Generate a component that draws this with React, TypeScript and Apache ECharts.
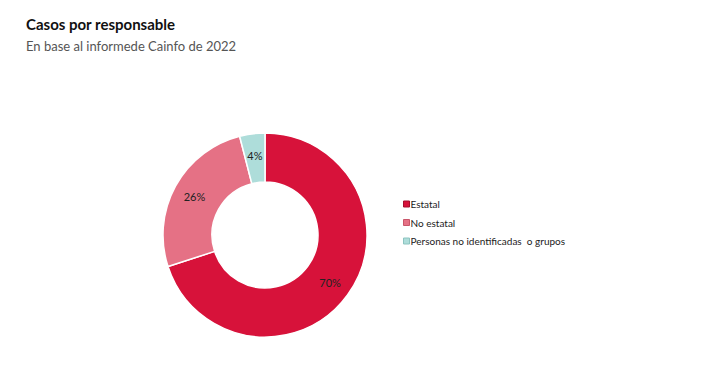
import React, { useEffect, useRef } from "react";
import * as echarts from "echarts";

const categories = ["Estatal", "No estatal", "Personas no identificadas  o grupos"];
const values = [70, 26, 4];
const colors = ["#D7123A", "#E57185", "#AEDDDA"];
const borderColors = ["#A50E2D", "#C9566A", "#8CC4C0"];

export default function App() {
  const ref = useRef<HTMLDivElement>(null);
  useEffect(() => {
    const chart = echarts.init(ref.current!, null, { renderer: "svg" });
    chart.setOption({
      animation: false,
      backgroundColor: "#ffffff",
      title: {
        text: "Casos por responsable",
        subtext: "En base al informede Cainfo de 2022",
        left: 13,
        top: 3,
        itemGap: 8,
        textStyle: { fontFamily: "Lato", fontSize: 15, fontWeight: "bold", color: "#111" },
        subtextStyle: { fontFamily: "Lato", fontSize: 13, color: "#555" },
      },
      legend: {
        orient: "vertical",
        left: 390,
        top: 186,
        itemWidth: 6,
        itemHeight: 6,
        itemGap: 8.5,
        icon: "rect",
        textStyle: { fontFamily: "Lato", fontSize: 10, color: "#222", padding: [0, 0, 0, -4] },
        data: categories.map((c, i) => ({
          name: c,
          itemStyle: { color: colors[i], borderColor: borderColors[i], borderWidth: 1 },
        })),
      },
      series: [
        {
          type: "pie",
          center: [257, 227],
          radius: [53, 102],
          startAngle: 90,
          clockwise: true,
          itemStyle: { borderColor: "#ffffff", borderWidth: 1.5 },
          label: {
            show: true,
            position: "inside",
            formatter: "{d}%",
            fontFamily: "Lato",
            fontSize: 11,
            color: "#222",
          },
          labelLine: { show: false },
          emphasis: { disabled: true },
          data: categories.map((c, i) => ({
            name: c,
            value: values[i],
            itemStyle: { color: colors[i] },
          })),
        },
      ],
    });
    return () => chart.dispose();
  }, []);
  return <div ref={ref} style={{ width: 692, height: 370 }} />;
}
